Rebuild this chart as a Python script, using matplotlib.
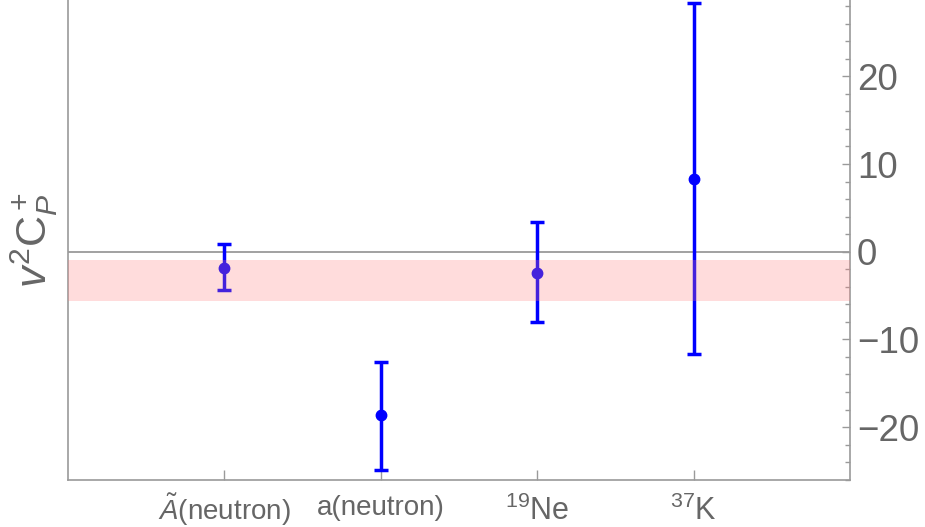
import matplotlib
matplotlib.use("Agg")
import matplotlib.pyplot as plt
from matplotlib.ticker import MultipleLocator, FixedLocator
from matplotlib.transforms import ScaledTranslation

plt.rcParams['font.family'] = ['Liberation Sans', 'DejaVu Sans']
plt.rcParams['mathtext.fontset'] = 'custom'
plt.rcParams['mathtext.rm'] = 'Liberation Sans'
plt.rcParams['mathtext.it'] = 'Liberation Sans:italic'
plt.rcParams['mathtext.bf'] = 'Liberation Sans:bold'

# ---- data ----
categories = [r'$\tilde{A}$(neutron)', 'a(neutron)', r'$^{19}$Ne', r'$^{37}$K']
positions = [1, 2, 3, 4]
central = [-1.86, -18.6, -2.39, 8.29]
err_low = [2.51, 6.3, 5.66, 19.95]
err_high = [2.74, 6.0, 5.74, 20.1]
band_low = -5.6
band_high = -0.95

GRAY_AX = '#9a9a9a'
GRAY_TXT = '#666666'

fig = plt.figure(figsize=(9.25, 5.27), dpi=100)
ax = fig.add_axes([68/925, 47/527, (850-68)/925, 480/527])

ax.axhline(0, color=GRAY_AX, lw=1.3, zorder=1)
ax.errorbar(positions, central, yerr=[err_low, err_high], fmt='o', color='blue',
            ms=7.5, elinewidth=2.5, capsize=4.8, capthick=2.5, zorder=3)
ax.axhspan(band_low, band_high, color=(1.0, 0.5, 0.5), alpha=0.27, lw=0, zorder=5)

ax.set_xlim(0, 5)
ax.set_ylim(-26.03, 28.70)

ax.spines['top'].set_visible(False)
for s in ['left', 'right', 'bottom']:
    ax.spines[s].set_color(GRAY_AX)
    ax.spines[s].set_linewidth(1.2)

ax.yaxis.tick_right()
ax.yaxis.set_major_locator(MultipleLocator(10))
ax.yaxis.set_minor_locator(MultipleLocator(2))
ax.tick_params(axis='y', which='major', direction='in', length=6, width=1,
               color=GRAY_AX, labelcolor=GRAY_TXT, labelsize=26.5, pad=5)
ax.tick_params(axis='y', which='minor', direction='in', length=3.5, width=1,
               color=GRAY_AX)

ax.xaxis.set_major_locator(FixedLocator(positions))
ax.set_xticklabels(categories)
ax.tick_params(axis='x', which='major', direction='in', length=7, width=1,
               color=GRAY_AX, labelcolor=GRAY_TXT, labelsize=20, pad=11)
labels = ax.get_xticklabels()
for lab in labels[2:]:
    lab.set_fontsize(22)
labels[0].set_transform(labels[0].get_transform() +
                        ScaledTranslation(0, 4/100, fig.dpi_scale_trans))

ax.set_ylabel(r'$v^2\mathrm{C}_P^+$', fontsize=31, color=GRAY_TXT, labelpad=6)
ax.yaxis.set_label_position('left')

fig.savefig('out.png', dpi=100)
